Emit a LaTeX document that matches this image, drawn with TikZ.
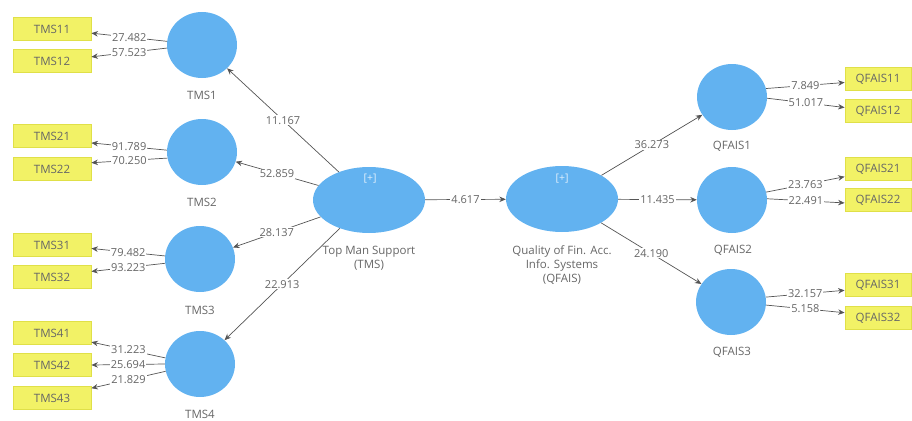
\documentclass[tikz,border=0pt]{standalone}
\usepackage{fontspec}
\setmainfont{Open Sans}
\usetikzlibrary{shapes.geometric,arrows.meta}
\definecolor{lvblue}{HTML}{62B2F0}
\definecolor{mvfill}{HTML}{F2F266}
\definecolor{mvdraw}{HTML}{E0E048}
\definecolor{edgegray}{HTML}{555555}
\definecolor{txtgray}{HTML}{666666}
\begin{document}
\begin{tikzpicture}[x=1pt,y=-1pt,
  font=\fontsize{11.5}{14}\selectfont,
  lv/.style={ellipse, fill=lvblue, minimum width=70pt, minimum height=66pt, inner sep=0pt},
  biglv/.style={ellipse, fill=lvblue, minimum width=112pt, minimum height=66pt, inner sep=0pt},
  mvl/.style={rectangle, fill=mvfill, draw=mvdraw, line width=0.8pt, minimum width=78pt, minimum height=23pt, inner sep=0pt, text=txtgray},
  mvr/.style={mvl, minimum width=66pt},
  caption/.style={text=txtgray, align=center, inner sep=0pt},
  conn/.style={draw=edgegray, line width=0.7pt, -{Stealth[length=6.5pt,width=5.5pt]}},
  num/.style={fill=white, text=txtgray, inner sep=1pt, font=\fontsize{11}{13}\selectfont},
  plus/.style={text=white!80!lvblue, font=\fontsize{10.5}{11}\selectfont, inner sep=0pt}
]
\useasboundingbox (0,0) rectangle (912,420);

% second-order constructs
\node[biglv] (TMS) at (369,200) {};
\node[plus] (TMSplus) at (370,179) {[+]};
\node[caption] (TMScap) at (369,258) {Top Man Support\\(TMS)};
\node[biglv] (QFAIS) at (562,199) {};
\node[plus] (QFAISplus) at (562,179) {[+]};
\node[caption] (QFAIScap) at (562,265) {Quality of Fin. Acc.\\Info. Systems\\(QFAIS)};

% first-order constructs, left
\node[lv] (TMS1) at (202,45) {};
\node[caption] (TMS1cap) at (202,95) {TMS1};
\node[lv] (TMS2) at (202,152) {};
\node[caption] (TMS2cap) at (202,202) {TMS2};
\node[lv] (TMS3) at (200,259) {};
\node[caption] (TMS3cap) at (200,310) {TMS3};
\node[lv] (TMS4) at (200,364) {};
\node[caption] (TMS4cap) at (200,414) {TMS4};

% first-order constructs, right
\node[lv] (QFAIS1) at (732,97) {};
\node[caption] (QFAIS1cap) at (732,146) {QFAIS1};
\node[lv] (QFAIS2) at (732,200) {};
\node[caption] (QFAIS2cap) at (733,250) {QFAIS2};
\node[lv] (QFAIS3) at (731,302) {};
\node[caption] (QFAIS3cap) at (732,352) {QFAIS3};

% indicators, left
\node[mvl] (TMS11) at (52,29) {TMS11};
\node[mvl] (TMS12) at (52,61) {TMS12};
\node[mvl] (TMS21) at (52,136) {TMS21};
\node[mvl] (TMS22) at (52,169) {TMS22};
\node[mvl] (TMS31) at (52,245) {TMS31};
\node[mvl] (TMS32) at (52,277) {TMS32};
\node[mvl] (TMS41) at (52,333) {TMS41};
\node[mvl] (TMS42) at (52,365) {TMS42};
\node[mvl] (TMS43) at (52,398) {TMS43};

% indicators, right
\node[mvr] (QFAIS11) at (878,79) {QFAIS11};
\node[mvr] (QFAIS12) at (878,111) {QFAIS12};
\node[mvr] (QFAIS21) at (878,169) {QFAIS21};
\node[mvr] (QFAIS22) at (878,200) {QFAIS22};
\node[mvr] (QFAIS31) at (878,285) {QFAIS31};
\node[mvr] (QFAIS32) at (878,318) {QFAIS32};

% structural paths
\draw[conn] (TMS) -- node[num] {11.167} (TMS1);
\draw[conn] (TMS) -- node[num] {52.859} (TMS2);
\draw[conn] (TMS) -- node[num] {28.137} (TMS3);
\draw[conn] (TMS) -- node[num] {22.913} (TMS4);
\draw[conn] (TMS) -- node[num] {4.617} (QFAIS);
\draw[conn] (QFAIS) -- node[num] {36.273} (QFAIS1);
\draw[conn] (QFAIS) -- node[num] {11.435} (QFAIS2);
\draw[conn] (QFAIS) -- node[num] {24.190} (QFAIS3);

% loadings, left
\draw[conn] (TMS1.174) -- node[num] {27.482} (TMS11.-6);
\draw[conn] (TMS1.185) -- node[num] {57.523} (TMS12.6);
\draw[conn] (TMS2.177) -- node[num] {91.789} (TMS21.-10);
\draw[conn] (TMS2.190) -- node[num] {70.250} (TMS22.9);
\draw[conn] (TMS3.175) -- node[num] {79.482} (TMS31.-5);
\draw[conn] (TMS3.187) -- node[num] {93.223} (TMS32.8);
\draw[conn] (TMS4.170) -- node[num] {31.223} (TMS41.-13);
\draw[conn] (TMS4.180) -- node[num] {25.694} (TMS42.east);
\draw[conn] (TMS4.192) -- node[num] {21.829} (TMS43.14);

% loadings, right
\draw[conn] (QFAIS1.14) -- node[num] {7.849} (QFAIS11.186);
\draw[conn] (QFAIS1.-2) -- node[num] {51.017} (QFAIS12.174);
\draw[conn] (QFAIS2.13) -- node[num] {23.763} (QFAIS21.193);
\draw[conn] (QFAIS2.2) -- node[num] {22.491} (QFAIS22.185);
\draw[conn] (QFAIS3.8) -- node[num] {32.157} (QFAIS31.189);
\draw[conn] (QFAIS3.-5) -- node[num] {5.158} (QFAIS32.171);
\end{tikzpicture}
\end{document}
